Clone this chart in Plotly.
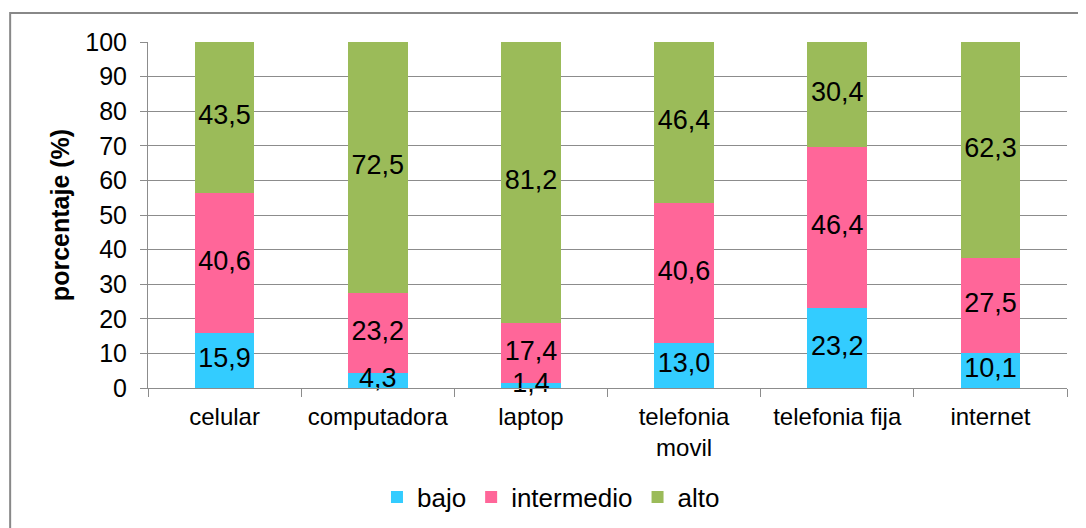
import plotly.graph_objects as go

categories = ["celular", "computadora", "laptop", "telefonia<br>movil", "telefonia fija", "internet"]
bajo = [15.9, 4.3, 1.4, 13.0, 23.2, 10.1]
intermedio = [40.6, 23.2, 17.4, 40.6, 46.4, 27.5]
alto = [43.5, 72.5, 81.2, 46.4, 30.4, 62.3]
series_names = ["bajo", "intermedio", "alto"]
colors = ["#33CCFF", "#FF6699", "#9BBB59"]
y_ticks = list(range(0, 101, 10))

FONT = "Liberation Sans, Arial"

def fmt(v):
    return f"{v:.1f}".replace(".", ",")

fig = go.Figure()
series = [bajo, intermedio, alto]
for name, vals, col in zip(series_names, series, colors):
    fig.add_trace(go.Bar(x=categories, y=vals, name=name, marker_color=col,
                         marker_line_width=0))

# labels at segment midpoints
base = [0.0] * len(categories)
for vals in series:
    mids = [b + v / 2 for b, v in zip(base, vals)]
    fig.add_trace(go.Scatter(x=categories, y=mids, mode="text",
                             text=[fmt(v) for v in vals],
                             textfont=dict(family=FONT, size=27, color="#000000"),
                             showlegend=False, hoverinfo="skip", cliponaxis=False))
    base = [b + v for b, v in zip(base, vals)]

fig.update_layout(
    barmode="stack",
    bargap=0.61,
    width=1086, height=528,
    margin=dict(l=140, r=27, t=34, b=148),
    paper_bgcolor="white", plot_bgcolor="white",
    font=dict(family=FONT, color="#000000"),
    legend=dict(orientation="h", x=0.4385, xanchor="center", y=-0.315, yanchor="middle",
                font=dict(size=26), traceorder="normal", itemwidth=30),
    shapes=[dict(type="rect", xref="paper", yref="paper",
                 x0=-0.150, x1=1.05, y0=-0.6, y1=1.0838,
                 line=dict(color="#888888", width=2), fillcolor="rgba(0,0,0,0)", layer="below")],
)
fig.update_yaxes(range=[0, 100], tickvals=y_ticks, showgrid=True, gridcolor="#8C8C8C", gridwidth=1,
                 showline=True, linecolor="#8C8C8C", linewidth=1, ticks="outside", ticklen=7,
                 tickcolor="#8C8C8C", tickfont=dict(size=25), ticklabelstandoff=8,
                 title=dict(text="<b>porcentaje (%)</b>", font=dict(size=25), standoff=8),
                 zeroline=False)
fig.update_xaxes(showline=True, linecolor="#8C8C8C", linewidth=1, ticks="outside", ticklen=8,
                 tickcolor="#8C8C8C", tickson="boundaries", tickfont=dict(size=24),
                 ticklabelstandoff=7, showgrid=False)

fig.write_html("out.html")
